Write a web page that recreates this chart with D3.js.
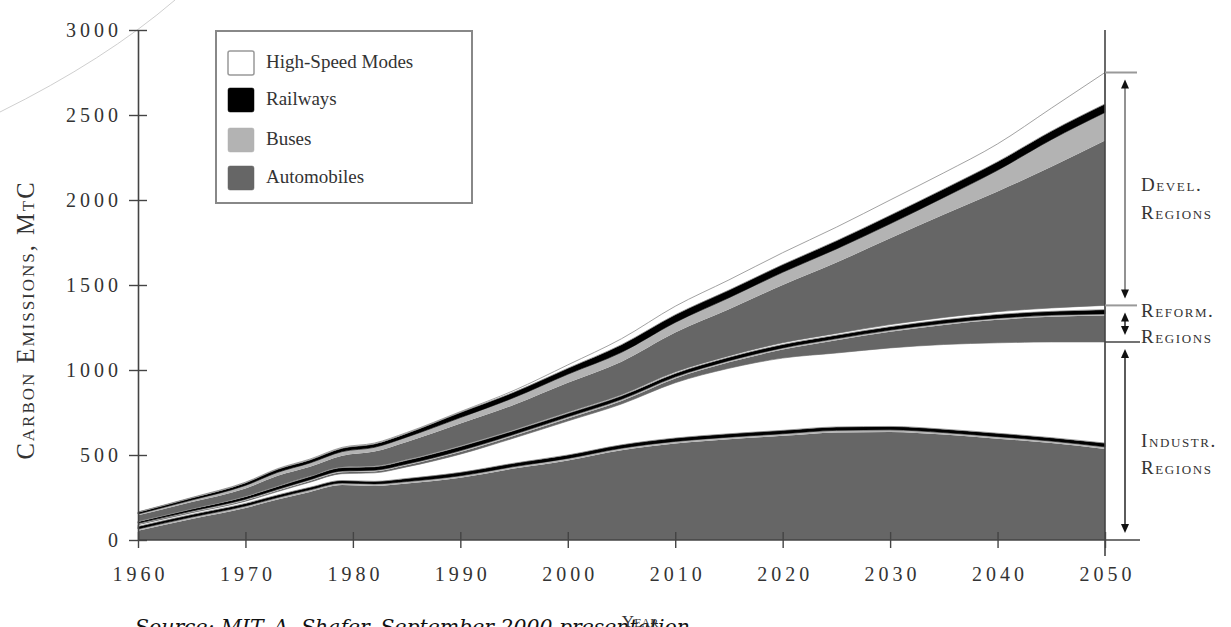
<!DOCTYPE html>
<html>
<head>
<meta charset="utf-8">
<script src="https://cdn.jsdelivr.net/npm/d3@7"></script>
<style>
  body { margin: 0; background: #fff; }
  svg { display: block; }
  .sc { font-family: "Liberation Serif", serif; font-variant: small-caps; fill: #333; }
  .tick text { font-family: "Liberation Serif", serif; fill: #333; }
</style>
</head>
<body>
<svg id="chart" width="1231" height="627"></svg>
<script>
// data, MtC per layer, stacked bottom to top
var years = [1960, 1965, 1970, 1973, 1976, 1979, 1982, 1985, 1990, 1995, 2000,
             2005, 2010, 2015, 2020, 2025, 2030, 2035, 2040, 2045, 2050];

// industrialized regions
var indAuto = [55, 123, 188, 238, 283, 323, 318, 332, 366, 420, 468, 528, 568, 593, 613, 633, 636, 620, 596, 570, 536];
var indBus  = [10, 12, 12, 12, 12, 12, 12, 12, 12, 12, 12, 12, 12, 12, 12, 12, 12, 12, 12, 12, 12];
var indRail = [15, 15, 15, 15, 15, 15, 15, 18, 20, 20, 20, 20, 20, 20, 20, 20, 20, 20, 20, 20, 22];
var indHs   = [10, 10, 13, 20, 30, 40, 50, 68, 107, 148, 200, 240, 325, 385, 425, 435, 462, 498, 532, 563, 595];

// reforming regions
var refAuto = [3, 4, 5, 6, 7, 8, 8, 9, 12, 13, 15, 18, 25, 35, 50, 75, 95, 115, 135, 148, 155];
var refBus  = [5, 6, 7, 7, 8, 8, 8, 8, 9, 9, 10, 10, 10, 10, 10, 10, 10, 10, 10, 10, 10];
var refRail = [10, 12, 15, 17, 18, 20, 20, 22, 24, 22, 20, 20, 20, 20, 20, 20, 20, 20, 22, 22, 25];
var refHs   = [2, 2, 3, 3, 3, 4, 4, 4, 5, 5, 6, 6, 8, 8, 10, 10, 12, 14, 16, 20, 25];

// developing regions
var devAuto = [35, 39, 45, 60, 55, 65, 85, 104, 130, 147, 174, 195, 232, 274, 340, 417, 508, 606, 707, 830, 970];
var devBus  = [8, 12, 18, 20, 22, 25, 25, 28, 35, 42, 50, 55, 60, 68, 75, 80, 85, 100, 125, 160, 165];
var devRail = [10, 12, 15, 18, 18, 20, 20, 22, 30, 32, 35, 45, 45, 45, 45, 48, 50, 50, 50, 50, 50];
var devHs   = [2, 3, 4, 4, 5, 5, 5, 5, 5, 10, 20, 35, 50, 60, 70, 80, 90, 95, 105, 135, 185];

var modes = ['High-Speed Modes', 'Railways', 'Buses', 'Automobiles'];
var yTicks = [0, 500, 1000, 1500, 2000, 2500, 3000];
var xTicks = [1960, 1970, 1980, 1990, 2000, 2010, 2020, 2030, 2040, 2050];

var regions = [
  { name: ['Industr.', 'Regions'], series: [indAuto, indBus, indRail, indHs] },
  { name: ['Reform.', 'Regions'],  series: [refAuto, refBus, refRail, refHs] },
  { name: ['Devel.', 'Regions'],   series: [devAuto, devBus, devRail, devHs] }
];
var modeKeys = ['auto', 'bus', 'rail', 'hs'];
var fills = { auto: '#666666', bus: '#b3b3b3', rail: '#000000', hs: '#ffffff' };

// build rows for d3.stack
var keys = [];
regions.forEach(function (r, ri) {
  modeKeys.forEach(function (m) { keys.push(ri + '_' + m); });
});
var rows = years.map(function (yr, i) {
  var row = { year: yr };
  regions.forEach(function (r, ri) {
    modeKeys.forEach(function (m, mi) { row[ri + '_' + m] = r.series[mi][i]; });
  });
  return row;
});

var svg = d3.select('#chart');

var x = d3.scaleLinear().domain([1960, 2050]).range([138, 1105]);
var y = d3.scaleLinear().domain([0, 3000]).range([540, 30]);

var stacked = d3.stack().keys(keys)(rows);

var area = d3.area()
  .curve(d3.curveMonotoneX)
  .x(function (d) { return x(d.data.year); })
  .y0(function (d) { return y(d[0]); })
  .y1(function (d) { return y(d[1]); });

// decorative arc top-left
svg.append('path')
  .attr('d', 'M0,112 Q105,60 175,0')
  .attr('fill', 'none')
  .attr('stroke', '#cfcfcf')
  .attr('stroke-width', 1);

svg.selectAll('.layer')
  .data(stacked)
  .join('path')
  .classed('layer', true)
  .attr('d', area)
  .attr('fill', function (d) { return fills[d.key.split('_')[1]]; })
  .attr('stroke', function (d) {
    var m = d.key.split('_')[1];
    return m === 'hs' ? '#8a8a8a' : (m === 'rail' ? '#000' : 'none');
  })
  .attr('stroke-width', function (d) { return d.key.split('_')[1] === 'hs' ? 0.8 : 0.6; });

// axes
var yAxis = svg.append('g')
  .attr('transform', 'translate(' + x(1960) + ',0)')
  .call(d3.axisLeft(y).tickValues(yTicks).tickFormat(d3.format('d')).tickSize(0).tickPadding(16));
yAxis.select('.domain').attr('stroke', '#444').attr('stroke-width', 1.6);
yAxis.selectAll('.tick line').attr('x1', -9).attr('x2', 9).attr('stroke', '#444').attr('stroke-width', 1.4);
yAxis.selectAll('.tick text').attr('font-size', 20).attr('letter-spacing', 4);

var xAxis = svg.append('g')
  .attr('transform', 'translate(0,' + y(0) + ')')
  .call(d3.axisBottom(x).tickValues(xTicks).tickFormat(d3.format('d')).tickSize(0).tickPadding(27));
xAxis.select('.domain').remove();
xAxis.selectAll('.tick line').attr('y1', -8).attr('y2', 8).attr('stroke', '#444').attr('stroke-width', 1.4);
xAxis.selectAll('.tick text').attr('font-size', 20).attr('letter-spacing', 4).attr('dx', 2);

svg.append('line')
  .attr('x1', x(1960)).attr('x2', 1140)
  .attr('y1', y(0)).attr('y2', y(0))
  .attr('stroke', '#444').attr('stroke-width', 1.6);

// right frame at 2050
svg.append('line')
  .attr('x1', x(2050)).attr('x2', x(2050))
  .attr('y1', y(3000)).attr('y2', y(0) + 16)
  .attr('stroke', '#444').attr('stroke-width', 1.6);

// region brackets
var bounds = [0];
regions.forEach(function (r) {
  var last = years.length - 1;
  var sum = d3.sum(r.series, function (s) { return s[last]; });
  bounds.push(bounds[bounds.length - 1] + sum);
});

[bounds[1], bounds[2], bounds[3]].forEach(function (b, i) {
  svg.append('line')
    .attr('x1', x(2050)).attr('x2', i === 0 ? 1140 : 1137)
    .attr('y1', y(b)).attr('y2', y(b))
    .attr('stroke', i === 0 ? '#444' : '#999').attr('stroke-width', i === 0 ? 1.4 : 2);
});

var ax = 1125;
function arrowHead(yy, dir) {
  svg.append('path')
    .attr('d', 'M' + (ax - 4) + ',' + (yy - dir * 9) + 'L' + ax + ',' + yy + 'L' + (ax + 4) + ',' + (yy - dir * 9) + 'Z')
    .attr('fill', '#111');
}
regions.forEach(function (r, i) {
  var top = y(bounds[i + 1]) + 7;
  var bot = y(bounds[i]) - 7;
  svg.append('line')
    .attr('x1', ax).attr('x2', ax)
    .attr('y1', top + 4).attr('y2', bot - 4)
    .attr('stroke', i === 2 ? '#777' : '#333').attr('stroke-width', 1.6);
  arrowHead(top, -1);
  arrowHead(bot, 1);
});

var labelPos = [[447, 474], [317, 343], [191, 219]];
regions.forEach(function (r, i) {
  r.name.forEach(function (t, j) {
    svg.append('text')
      .attr('class', 'sc')
      .attr('x', 1141).attr('y', labelPos[i][j])
      .attr('font-size', 19)
      .attr('letter-spacing', 1.6)
      .text(t);
  });
});

// legend
var lg = svg.append('g').attr('transform', 'translate(216,31)');
lg.append('rect')
  .attr('width', 256).attr('height', 172)
  .attr('fill', '#fff').attr('stroke', '#888').attr('stroke-width', 2);
var legendFill = ['#ffffff', '#000000', '#b3b3b3', '#666666'];
var rowY = [20, 57, 97, 135];
modes.forEach(function (m, i) {
  lg.append('rect')
    .attr('x', 12).attr('y', rowY[i])
    .attr('width', 26).attr('height', 24).attr('rx', 2)
    .attr('fill', legendFill[i])
    .attr('stroke', i === 0 ? '#999' : legendFill[i])
    .attr('stroke-width', i === 0 ? 1.5 : 0.5);
  lg.append('text')
    .attr('x', 50).attr('y', rowY[i] + 17)
    .attr('font-family', 'Liberation Serif, serif')
    .attr('font-size', 19)
    .attr('fill', '#333')
    .text(m);
});

// axis titles
svg.append('text')
  .attr('class', 'sc')
  .attr('transform', 'translate(34,320) rotate(-90)')
  .attr('text-anchor', 'middle')
  .attr('font-size', 24.5)
  .attr('letter-spacing', 2)
  .text('Carbon Emissions, MtC');

svg.append('text')
  .attr('x', 135).attr('y', 634)
  .attr('font-family', 'DejaVu Serif, serif')
  .attr('font-style', 'italic')
  .attr('font-size', 20.4)
  .attr('fill', '#111')
  .text('Source: MIT, A. Shafer, September 2000 presentation');

svg.append('text')
  .attr('class', 'sc')
  .attr('x', 640).attr('y', 627)
  .attr('text-anchor', 'middle')
  .attr('font-size', 17)
  .attr('fill', '#555')
  .text('Year');
</script>
</body>
</html>
